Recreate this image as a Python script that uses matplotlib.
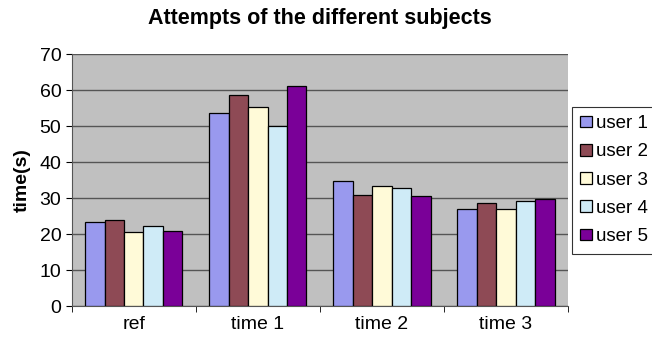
import matplotlib
matplotlib.use('Agg')
import matplotlib.pyplot as plt
import numpy as np

plt.rcParams['font.family'] = ['Liberation Sans', 'DejaVu Sans']

# data
categories = ['ref', 'time 1', 'time 2', 'time 3']
users = ['user 1', 'user 2', 'user 3', 'user 4', 'user 5']
user1 = [23.3, 53.5, 34.8, 27.1]
user2 = [23.8, 58.7, 30.8, 28.6]
user3 = [20.7, 55.3, 33.4, 27.1]
user4 = [22.3, 50.0, 32.7, 29.3]
user5 = [20.8, 61.2, 30.6, 29.8]
series = [user1, user2, user3, user4, user5]
colors = ['#9999EE', '#8E4A55', '#FFFAD8', '#CFEBF7', '#7A0098']

fig = plt.figure(figsize=(6.52, 3.42), dpi=100)
ax = fig.add_axes([0.110, 0.105, 0.761, 0.737])
ax.set_facecolor('#C0C0C0')

x = np.arange(len(categories))
w = 0.157
for i, vals in enumerate(series):
    ax.bar(x + (i - 2) * w, vals, w, color=colors[i], edgecolor='black',
           linewidth=0.9, label=users[i], zorder=3)

ax.set_xlim(-0.5, 3.5)
ax.set_ylim(0, 70)
ax.set_yticks(range(0, 71, 10))
ax.yaxis.grid(True, color='#555555', linewidth=1.0, zorder=0)
ax.set_xticks(x)
ax.set_xticklabels(categories, fontsize=14)
ax.set_xticks(np.arange(-0.5, 3.6, 1), minor=True)
ax.tick_params(axis='x', which='major', length=0, pad=7)
ax.tick_params(axis='x', which='minor', length=4, direction='out')
ax.tick_params(axis='y', labelsize=14, length=4)
for s in ['top', 'right']:
    ax.spines[s].set_visible(False)
ax.spines['left'].set_color('#555555')
ax.spines['bottom'].set_color('#555555')

ax.set_ylabel('time(s)', fontsize=14, fontweight='bold', labelpad=6)
fig.text(0.49, 0.945, 'Attempts of the different subjects', ha='center',
         va='center', fontsize=15.5, fontweight='bold')

leg = ax.legend(loc='center left', bbox_to_anchor=(1.008, 0.5), fontsize=13.5,
                frameon=True, fancybox=False, edgecolor='black',
                handlelength=0.6, handleheight=0.6, handletextpad=0.25,
                labelspacing=0.6, borderpad=0.45, borderaxespad=0)
leg.get_frame().set_linewidth(0.8)

fig.savefig('out.png', dpi=100)
